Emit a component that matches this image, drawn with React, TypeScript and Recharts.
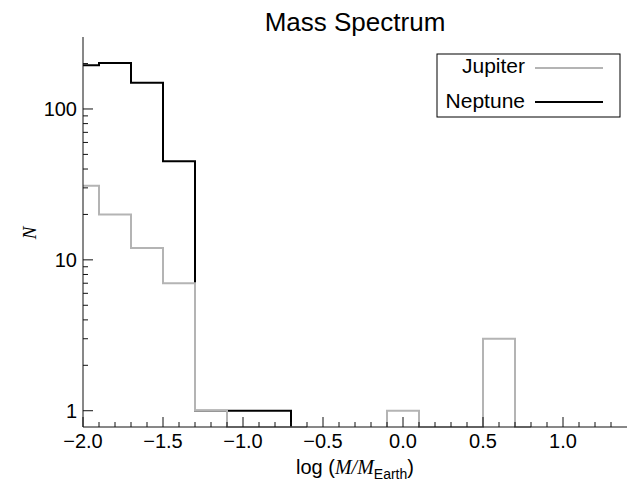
import React from 'react';
import { LineChart, Line, XAxis, YAxis } from 'recharts';

// ---- data -------------------------------------------------------------
// Histogram bin edges (log M/M_Earth) and counts for the bin starting at each edge.
const neptuneEdges = [-2.0, -1.9, -1.7, -1.5, -1.3, -1.1, -0.9, -0.7];
const neptuneCounts = [195, 202, 149, 45, 1, 1, 1, 0];

const jupiterEdges = [-2.0, -1.9, -1.7, -1.5, -1.3, -1.1, -0.6, -0.35, -0.1, -0.1, 0.1, 0.5, 0.7, 0.8];
const jupiterCounts: (number | null)[] = [31, 20, 12, 7, 1, 0, 0, null, 0, 1, 0, 3, 0, 0];

const xMajorTicks = [-2.0, -1.5, -1.0, -0.5, 0.0, 0.5, 1.0];
const xMinorTicks = [
  -1.9, -1.8, -1.7, -1.6, -1.4, -1.3, -1.2, -1.1, -0.9, -0.8, -0.7, -0.6, -0.4, -0.3, -0.2, -0.1,
  0.1, 0.2, 0.3, 0.4, 0.6, 0.7, 0.8, 0.9, 1.1, 1.2, 1.3,
];
const yMajorTicks = [1, 10, 100];
const yMinorTicks = [2, 3, 4, 5, 6, 7, 8, 9, 20, 30, 40, 50, 60, 70, 80, 90, 200];

const X_DOMAIN: [number, number] = [-2.0, 1.4];
const Y_DOMAIN: [number, number] = [0.78, 300];
const FLOOR = Y_DOMAIN[0]; // zero counts are drawn on the bottom of the log axis

const toPoints = (edges: number[], counts: (number | null)[]) =>
  edges.map((x, i) => ({ x, y: counts[i] === null ? null : counts[i] === 0 ? FLOOR : counts[i] }));

const neptuneData = toPoints(neptuneEdges, neptuneCounts);
const jupiterData = toPoints(jupiterEdges, jupiterCounts);

const xTicks = [...xMajorTicks, ...xMinorTicks].sort((a, b) => a - b);
const yTicks = [...yMajorTicks, ...yMinorTicks].sort((a, b) => a - b);

const isXMajor = (v: number) => xMajorTicks.some((m) => Math.abs(m - v) < 1e-6);
const isYMajor = (v: number) => yMajorTicks.includes(v);

const FONT = '"Liberation Sans", Arial, Helvetica, sans-serif';
const TM = 10; // tick margin used to recover the axis position
const MAJ = 10;
const MIN = 5;
const AXIS = '#111';

const fmtX = (v: number) => {
  const s = Math.abs(v) < 1e-9 ? '0.0' : v.toFixed(1);
  return s.replace('-', '\u2212');
};

const BottomTick = (props: any) => {
  const { x, y, payload } = props;
  const axisY = y - TM;
  const major = isXMajor(payload.value);
  return (
    <g>
      <line x1={x} x2={x} y1={axisY} y2={axisY - (major ? MAJ : MIN)} stroke={AXIS} strokeWidth={1} />
      {major && (
        <text x={x} y={axisY + 21} textAnchor="middle" fontFamily={FONT} fontSize={20} fill="#000">
          {fmtX(payload.value)}
        </text>
      )}
    </g>
  );
};

const TopTick = (props: any) => {
  const { x, y, payload } = props;
  const axisY = y;
  const major = isXMajor(payload.value);
  return <line x1={x} x2={x} y1={axisY} y2={axisY + (major ? MAJ : MIN)} stroke={AXIS} strokeWidth={1} />;
};

const LeftTick = (props: any) => {
  const { x, y, payload } = props;
  const axisX = x + TM;
  const major = isYMajor(payload.value);
  return (
    <g>
      <line x1={axisX} x2={axisX + (major ? MAJ : MIN)} y1={y} y2={y} stroke={AXIS} strokeWidth={1} />
      {major && (
        <text x={axisX - 6} y={y + 7} textAnchor="end" fontFamily={FONT} fontSize={20} fill="#000">
          {payload.value}
        </text>
      )}
    </g>
  );
};

const RightTick = (props: any) => {
  const { x, y, payload } = props;
  const axisX = x - TM;
  const major = isYMajor(payload.value);
  return <line x1={axisX} x2={axisX - (major ? MAJ : MIN)} y1={y} y2={y} stroke={AXIS} strokeWidth={1} />;
};

export default function App() {
  return (
    <div style={{ position: 'absolute', left: 0, top: 0, width: 631, height: 485, background: '#fff' }}>
      <LineChart width={631} height={485} data={neptuneData} margin={{ top: 37, right: 4, bottom: 0, left: 0 }}>
        <XAxis
          dataKey="x"
          type="number"
          domain={X_DOMAIN}
          ticks={xTicks}
          interval={0}
          height={58}
          tickSize={0}
          tickMargin={TM}
          tick={<BottomTick />}
          axisLine={{ stroke: AXIS, strokeWidth: 1 }}
          tickLine={false}
        />
        <XAxis
          xAxisId="top"
          orientation="top"
          dataKey="x"
          type="number"
          domain={X_DOMAIN}
          ticks={xTicks}
          interval={0}
          height={0}
          tickSize={0}
          tickMargin={0}
          tick={<TopTick />}
          axisLine={{ stroke: AXIS, strokeWidth: 1 }}
          tickLine={false}
        />
        <YAxis
          type="number"
          scale="log"
          domain={Y_DOMAIN}
          ticks={yTicks}
          interval={0}
          width={83}
          tickSize={0}
          tickMargin={TM}
          tick={<LeftTick />}
          axisLine={{ stroke: AXIS, strokeWidth: 1 }}
          tickLine={false}
        />
        <YAxis
          yAxisId="right"
          orientation="right"
          type="number"
          scale="log"
          domain={Y_DOMAIN}
          allowDataOverflow
          ticks={yTicks}
          interval={0}
          width={0}
          tickSize={0}
          tickMargin={TM}
          tick={<RightTick />}
          axisLine={{ stroke: AXIS, strokeWidth: 1 }}
          tickLine={false}
        />
        <Line
          data={neptuneData}
          dataKey="y"
          type="stepAfter"
          stroke="#000"
          strokeWidth={2}
          dot={false}
          isAnimationActive={false}
        />
        <Line
          data={jupiterData}
          dataKey="y"
          type="stepAfter"
          stroke="#b4b4b4"
          strokeWidth={2}
          dot={false}
          connectNulls={false}
          isAnimationActive={false}
        />
      </LineChart>
      <svg
        width={631}
        height={485}
        style={{ position: 'absolute', left: 0, top: 0, pointerEvents: 'none' }}
      >
        <text x={355} y={31} textAnchor="middle" fontFamily={FONT} fontSize={26} fill="#000">
          Mass Spectrum
        </text>
        <text x={355} y={474} textAnchor="middle" fontFamily={FONT} fontSize={20} fill="#000">
          <tspan>log (</tspan>
          <tspan fontFamily='"Liberation Serif", "Times New Roman", serif' fontStyle="italic">M/M</tspan>
          <tspan fontSize={14} dy={5}>Earth</tspan>
          <tspan dy={-5}>)</tspan>
        </text>
        <text
          x={36}
          y={233}
          textAnchor="middle"
          transform="rotate(-90 36 233)"
          fontFamily='"Liberation Serif", "Times New Roman", serif'
          fontStyle="italic"
          fontSize={19}
          fill="#000"
        >
          N
        </text>
        <rect x={437} y={54} width={183} height={63} fill="#fff" stroke="#000" strokeWidth={1} />
        <text x={525} y={73} textAnchor="end" fontFamily={FONT} fontSize={21} fill="#000">
          Jupiter
        </text>
        <line x1={535} x2={603} y1={68} y2={68} stroke="#b4b4b4" strokeWidth={2} />
        <text x={525} y={108} textAnchor="end" fontFamily={FONT} fontSize={21} fill="#000">
          Neptune
        </text>
        <line x1={535} x2={603} y1={102} y2={102} stroke="#000" strokeWidth={2} />
      </svg>
    </div>
  );
}
